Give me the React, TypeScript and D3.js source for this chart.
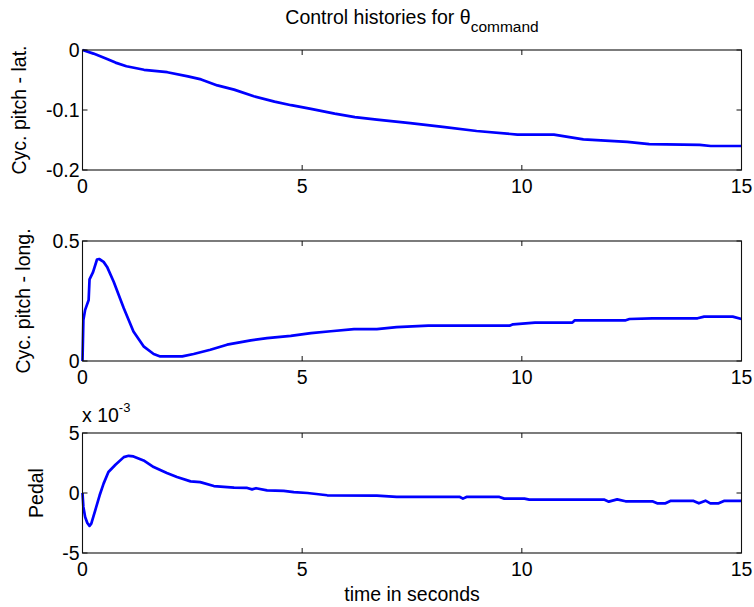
import React from "react";
import * as d3 from "d3";

// ---------- data ----------
const latT = [0, 0.25, 0.56, 0.75, 1.0, 1.4, 1.93, 2.4, 2.7, 3.07, 3.45, 3.9, 4.37, 4.75, 5.2, 5.74, 6.2, 6.7, 7.46, 8.2, 8.97, 9.9, 10.73, 11.4, 12.4, 12.9, 14.05, 14.3, 15];
const latV = [0, -0.006, -0.015, -0.021, -0.027, -0.033, -0.037, -0.044, -0.049, -0.059, -0.066, -0.077, -0.086, -0.092, -0.098, -0.106, -0.112, -0.116, -0.122, -0.128, -0.135, -0.141, -0.141, -0.149, -0.153, -0.157, -0.158, -0.16, -0.16];

const longT = [0, 0.02, 0.06, 0.14, 0.16, 0.24, 0.33, 0.38, 0.48, 0.56, 0.71, 0.94, 1.16, 1.39, 1.62, 1.77, 2.27, 2.53, 2.91, 3.29, 3.83, 4.2, 4.74, 5.2, 5.65, 6.18, 6.7, 7.15, 7.87, 9.72, 9.8, 10.3, 11.15, 11.2, 12.35, 12.45, 12.97, 14.0, 14.15, 14.8, 15];
const longV = [0, 0.171, 0.213, 0.254, 0.34, 0.37, 0.423, 0.425, 0.413, 0.392, 0.33, 0.22, 0.123, 0.061, 0.029, 0.019, 0.019, 0.029, 0.047, 0.068, 0.086, 0.095, 0.105, 0.116, 0.124, 0.133, 0.133, 0.141, 0.147, 0.147, 0.153, 0.16, 0.16, 0.169, 0.169, 0.175, 0.178, 0.178, 0.185, 0.185, 0.175];

// pedal values in units of 1e-3
const pedT = [0, 0.02, 0.06, 0.11, 0.16, 0.2, 0.29, 0.39, 0.48, 0.59, 0.75, 0.94, 1.05, 1.16, 1.39, 1.62, 1.92, 2.15, 2.46, 2.68, 2.99, 3.45, 3.75, 3.86, 3.95, 4.2, 4.58, 4.81, 5.12, 5.57, 6.7, 7.15, 8.59, 8.66, 8.74, 9.49, 9.6, 10.06, 10.17, 11.87, 11.98, 12.17, 12.36, 12.97, 13.08, 13.27, 13.38, 13.91, 14.03, 14.18, 14.29, 14.48, 14.6, 15];
const pedV = [0, -1.16, -2.0, -2.5, -2.74, -2.55, -1.44, -0.19, 0.78, 1.75, 2.35, 2.99, 3.1, 3.05, 2.71, 2.16, 1.66, 1.33, 0.97, 0.91, 0.58, 0.44, 0.42, 0.3, 0.4, 0.22, 0.17, 0.08, 0, -0.19, -0.22, -0.33, -0.33, -0.47, -0.33, -0.33, -0.47, -0.47, -0.55, -0.55, -0.72, -0.53, -0.69, -0.69, -0.86, -0.86, -0.66, -0.66, -0.86, -0.64, -0.86, -0.86, -0.66, -0.66];

const xTicks = [0, 5, 10, 15];
const latTicks = [0, -0.1, -0.2];
const longTicks = [0, 0.5];
const pedTicks = [-5, 0, 5];

const FONT = "'Liberation Sans', Arial, Helvetica, sans-serif";
const FS = 19.5;

const X0 = 82.5;
const X1 = 741.5;

type PanelProps = {
  top: number;
  bottom: number;
  t: number[];
  v: number[];
  domain: [number, number];
  yTicks: number[];
  yLabel: string;
  yLabelX: number;
  fmt: (d: number) => string;
};

function Panel({ top, bottom, t, v, domain, yTicks, yLabel, yLabelX, fmt }: PanelProps) {
  const x = d3.scaleLinear().domain([0, 15]).range([X0, X1]);
  const y = d3.scaleLinear().domain(domain).range([bottom, top]);
  const pts: [number, number][] = t.map((ti, i) => [ti, v[i]]);
  const line = d3
    .line<[number, number]>()
    .x((d) => x(d[0]))
    .y((d) => y(d[1]))
    .curve(d3.curveLinear);
  const tl = 5;
  const cy = (top + bottom) / 2;
  return (
    <g>
      <rect x={X0} y={top} width={X1 - X0} height={bottom - top} fill="white" stroke="none" />
      <path d={line(pts) || ""} fill="none" stroke="#0000ff" strokeWidth={2.7} strokeLinejoin="round" />
      <rect x={X0} y={top} width={X1 - X0} height={bottom - top} fill="none" stroke="#111" strokeWidth={1.1} />
      {xTicks.map((d) => (
        <g key={"x" + d}>
          <line x1={x(d)} x2={x(d)} y1={bottom} y2={bottom - tl} stroke="#111" strokeWidth={1} />
          <line x1={x(d)} x2={x(d)} y1={top} y2={top + tl} stroke="#111" strokeWidth={1} />
          <text x={x(d)} y={bottom + 23} textAnchor="middle" fontFamily={FONT} fontSize={FS} fill="#000">
            {d}
          </text>
        </g>
      ))}
      {yTicks.map((d) => (
        <g key={"y" + d}>
          <line x1={X0} x2={X0 + tl} y1={y(d)} y2={y(d)} stroke="#111" strokeWidth={1} />
          <line x1={X1} x2={X1 - tl} y1={y(d)} y2={y(d)} stroke="#111" strokeWidth={1} />
          <text x={X0 - 3} y={y(d)} dy="0.36em" textAnchor="end" fontFamily={FONT} fontSize={FS} fill="#000">
            {fmt(d)}
          </text>
        </g>
      ))}
      <text
        transform={`translate(${yLabelX},${cy}) rotate(-90)`}
        textAnchor="middle"
        fontFamily={FONT}
        fontSize={FS}
        fill="#000"
      >
        {yLabel}
      </text>
    </g>
  );
}

export default function App() {
  const fmtG = (d: number) => (d === 0 ? "0" : String(d));
  return (
    <svg
      width={754}
      height={607}
      style={{ position: "absolute", left: 0, top: 0, background: "white" }}
    >
      <rect x={0} y={0} width={754} height={607} fill="white" />
      <text x={412} y={24} textAnchor="middle" fontFamily={FONT} fontSize={FS} fill="#000">
        Control histories for θ
        <tspan fontSize={15.5} dy={8}>
          command
        </tspan>
      </text>
      <Panel
        top={50}
        bottom={170}
        t={latT}
        v={latV}
        domain={[-0.2, 0]}
        yTicks={latTicks}
        yLabel="Cyc. pitch - lat."
        yLabelX={25.5}
        fmt={fmtG}
      />
      <Panel
        top={241}
        bottom={361}
        t={longT}
        v={longV}
        domain={[0, 0.5]}
        yTicks={longTicks}
        yLabel="Cyc. pitch - long."
        yLabelX={30}
        fmt={fmtG}
      />
      <Panel
        top={433}
        bottom={553}
        t={pedT}
        v={pedV}
        domain={[-5, 5]}
        yTicks={pedTicks}
        yLabel="Pedal"
        yLabelX={43}
        fmt={fmtG}
      />
      <text x={82} y={421.5} fontFamily={FONT} fontSize={FS} fill="#000">
        x 10
        <tspan fontSize={13} dy={-10}>
          -3
        </tspan>
      </text>
      <text x={412} y={601} textAnchor="middle" fontFamily={FONT} fontSize={FS} fill="#000">
        time in seconds
      </text>
    </svg>
  );
}
